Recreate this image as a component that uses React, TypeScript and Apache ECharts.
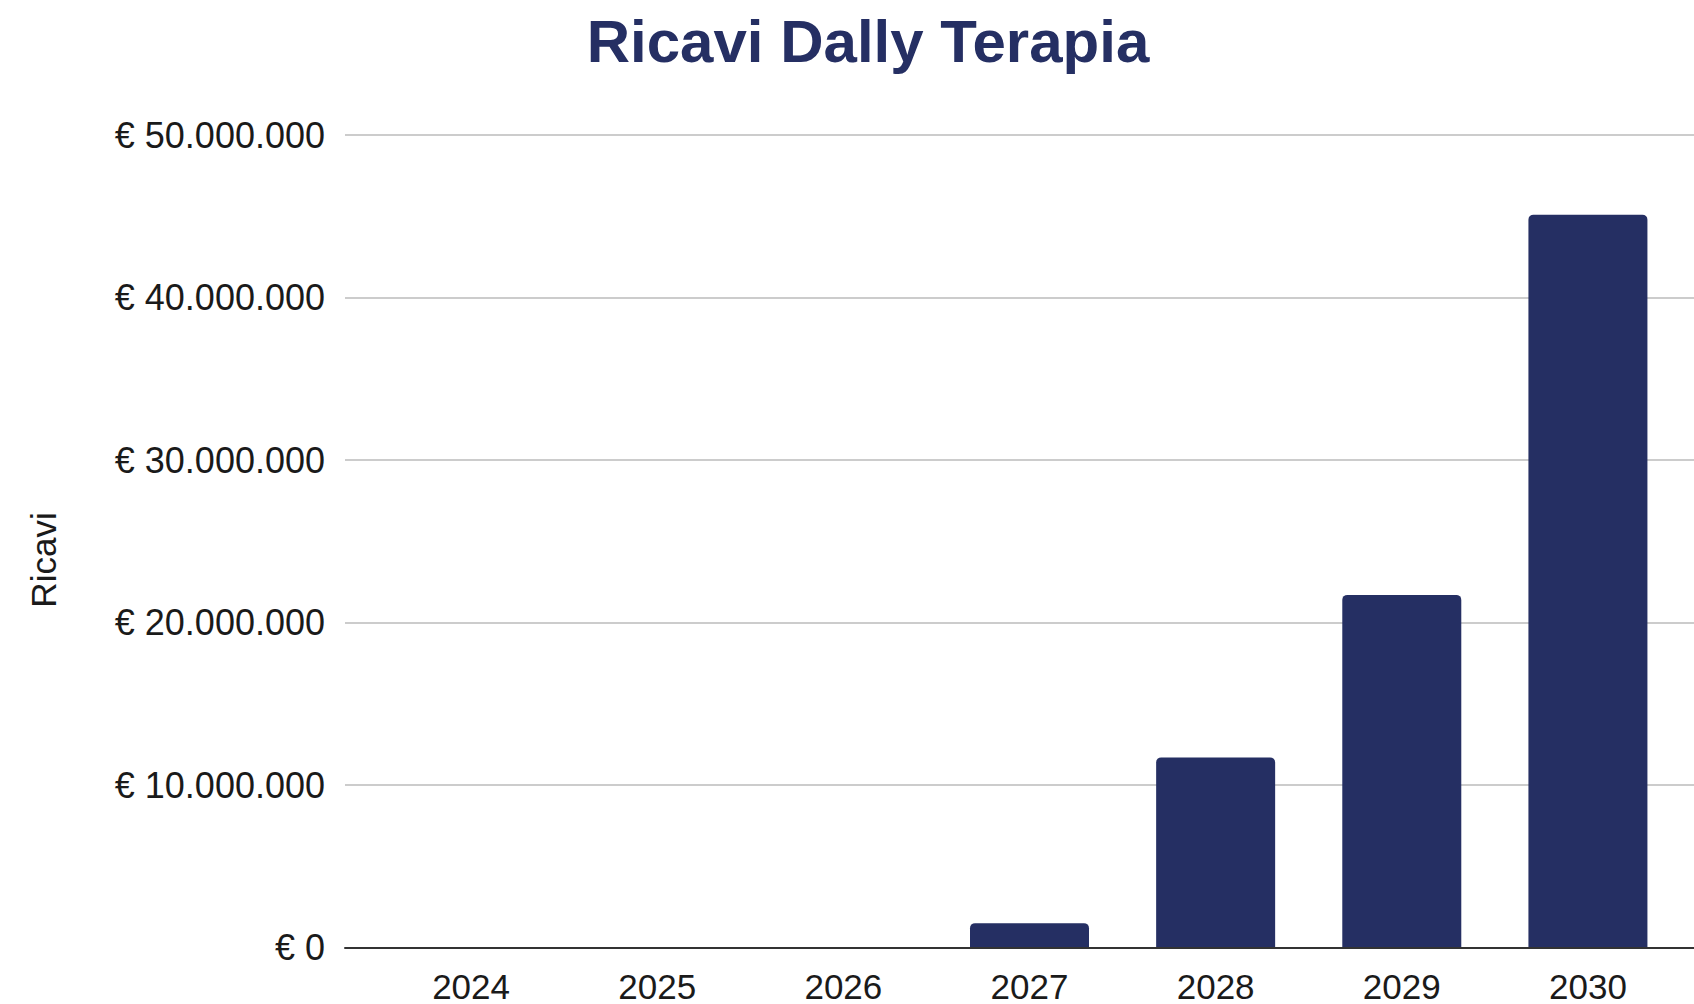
import React, { useEffect, useRef } from "react";
import * as echarts from "echarts";

const years = ["2024", "2025", "2026", "2027", "2028", "2029", "2030"];
const ricavi = [0, 0, 0, 1500000, 11700000, 21700000, 45100000];
const yTicks = { min: 0, max: 50000000, interval: 10000000 };
const titleText = "Ricavi Dally Terapia";
const yName = "Ricavi";

const NAVY = "#252f63";
const FONT = "Liberation Sans, Arial, sans-serif";

function fmtEuro(v: number): string {
  return "€ " + String(Math.round(v)).replace(/\B(?=(\d{3})+(?!\d))/g, ".");
}

export default function App() {
  const ref = useRef<HTMLDivElement>(null);
  useEffect(() => {
    document.body.style.margin = "0";
    if (!ref.current) return;
    const chart = echarts.init(ref.current, null, { renderer: "svg" });
    const gTop = 135;
    const gBottom = 1004 - 947.5;
    chart.setOption({
      animation: false,
      backgroundColor: "#ffffff",
      textStyle: { fontFamily: FONT },
      grid: [
        { left: 345, right: 0, top: gTop, bottom: gBottom },
        { left: 378, width: 1303, top: gTop, bottom: gBottom },
      ],
      xAxis: [
        {
          gridIndex: 0,
          type: "value",
          min: 0,
          max: 1,
          axisLabel: { show: false },
          axisTick: { show: false },
          splitLine: { show: false },
          axisLine: { show: true, lineStyle: { color: "#333333", width: 2 } },
          z: 5,
        },
        {
          gridIndex: 1,
          type: "category",
          data: years,
          axisLine: { show: false },
          axisTick: { show: false },
          axisLabel: { fontSize: 35, color: "#1a1a1a", margin: 21, fontFamily: FONT },
        },
      ],
      yAxis: [
        {
          gridIndex: 0,
          type: "value",
          min: yTicks.min,
          max: yTicks.max,
          interval: yTicks.interval,
          axisLine: { show: false },
          axisTick: { show: false },
          axisLabel: {
            fontSize: 36,
            color: "#1a1a1a",
            margin: 20,
            fontFamily: FONT,
            formatter: (v: number) => fmtEuro(v),
          },
          splitLine: { show: true, lineStyle: { color: "#cccccc", width: 2 } },
        },
        {
          gridIndex: 1,
          type: "value",
          min: yTicks.min,
          max: yTicks.max,
          interval: yTicks.interval,
          show: false,
          splitLine: { show: false },
        },
      ],
      series: [
        {
          type: "bar",
          xAxisIndex: 1,
          yAxisIndex: 1,
          data: ricavi,
          barWidth: 119,
          itemStyle: { color: NAVY, borderRadius: [5, 5, 0, 0] },
          z: 3,
        },
      ],
      graphic: [
        {
          type: "text",
          x: 868,
          y: 41,
          style: {
            text: titleText,
            fontSize: 60,
            fontWeight: "bold",
            fontFamily: FONT,
            fill: NAVY,
            align: "center",
            verticalAlign: "middle",
          },
        },
        {
          type: "text",
          x: 43,
          y: 560,
          rotation: Math.PI / 2,
          style: {
            text: yName,
            fontSize: 35,
            fontFamily: FONT,
            fill: "#1a1a1a",
            align: "center",
            verticalAlign: "middle",
          },
        },
      ],
    });
    return () => chart.dispose();
  }, []);
  return <div ref={ref} style={{ width: 1694, height: 1004 }} />;
}
